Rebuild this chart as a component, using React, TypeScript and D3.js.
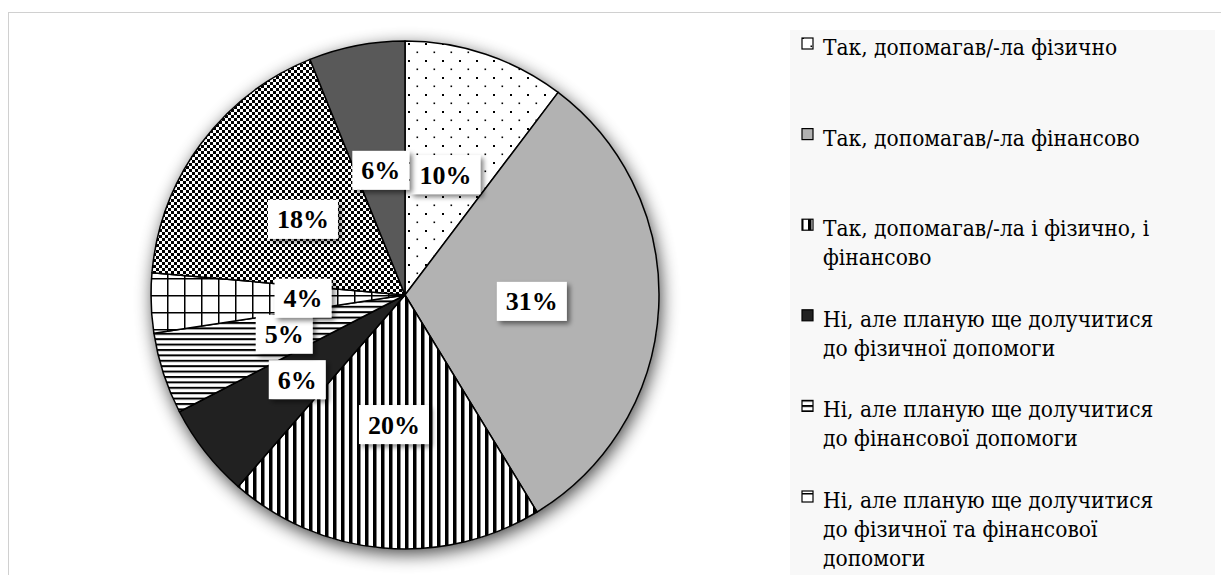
import React from "react";
import * as d3 from "d3";

const categories: string[] = [
  "Так, допомагав/-ла фізично",
  "Так, допомагав/-ла фінансово",
  "Так, допомагав/-ла і фізично, і\nфінансово",
  "Ні, але планую ще долучитися\nдо фізичної допомоги",
  "Ні, але планую ще долучитися\nдо фінансової допомоги",
  "Ні, але планую ще долучитися\nдо фізичної та фінансової\nдопомоги",
  "Ні, і не планую долучатися",
  "Важко відповісти",
];
const values: number[] = [10.3, 31.0, 20.1, 6.0, 5.2, 3.8, 17.5, 6.1];
const percentLabels: string[] = ["10%", "31%", "20%", "6%", "5%", "4%", "18%", "6%"];

// styling (not data)
const fills = [
  "url(#pDots)",
  "#b2b2b2",
  "url(#pVert)",
  "#212121",
  "url(#pHoriz)",
  "url(#pGrid)",
  "url(#pCheck)",
  "#595959",
];
const labelRadiusAdj = [0, 0, 3, 10, 0, -25, 0, 0];

const W = 1221;
const H = 575;
const cx = 405;
const cy = 295;
const R = 254;
const labelR = 127;

export default function App() {
  const pie = d3.pie<number>().sort(null).value((d) => d);
  const arcs = pie(values);
  const arcGen = d3.arc<d3.PieArcDatum<number>>().innerRadius(0).outerRadius(R);

  const legendX = 802;
  const legendY0 = 55;
  const legendStep = 90.6;
  const lineH = 29;

  return (
    <svg
      width={W}
      height={H}
      style={{ position: "absolute", left: 0, top: 0, background: "#fff" }}
    >
      <defs>
        <pattern id="pDots" patternUnits="userSpaceOnUse" width={17} height={17}>
          <rect width={17} height={17} fill="#fff" />
          <rect x={3} y={3} width={2} height={2} fill="#000" />
          <rect x={11.5} y={11.5} width={1.6} height={1.6} fill="#000" />
        </pattern>
        <pattern id="pVert" patternUnits="userSpaceOnUse" width={8} height={8}>
          <rect width={8} height={8} fill="#fff" />
          <rect x={0} y={0} width={3.5} height={8} fill="#000" />
        </pattern>
        <pattern id="pHoriz" patternUnits="userSpaceOnUse" width={8} height={5.4}>
          <rect width={8} height={5.4} fill="#fff" />
          <rect x={0} y={0} width={8} height={2} fill="#000" />
        </pattern>
        <pattern id="pGrid" patternUnits="userSpaceOnUse" width={17} height={17}>
          <rect width={17} height={17} fill="#fff" />
          <rect x={0} y={0} width={17} height={1.5} fill="#000" />
          <rect x={0} y={0} width={1.5} height={17} fill="#000" />
        </pattern>
        <pattern id="pCheck" patternUnits="userSpaceOnUse" width={6} height={6}>
          <rect width={6} height={6} fill="#fff" />
          <rect x={0} y={0} width={3} height={3} fill="#000" />
          <rect x={3} y={3} width={3} height={3} fill="#000" />
        </pattern>
        <filter id="pieShadow" x="-20%" y="-20%" width="140%" height="140%">
          <feGaussianBlur in="SourceAlpha" stdDeviation={9} />
          <feOffset dx={2} dy={5} result="b" />
          <feComponentTransfer>
            <feFuncA type="linear" slope={0.75} />
          </feComponentTransfer>
          <feMerge>
            <feMergeNode />
            <feMergeNode in="SourceGraphic" />
          </feMerge>
        </filter>
        <filter id="boxShadow" x="-30%" y="-30%" width="160%" height="160%">
          <feGaussianBlur in="SourceAlpha" stdDeviation={2.5} />
          <feOffset dx={3} dy={3} />
          <feComponentTransfer>
            <feFuncA type="linear" slope={0.5} />
          </feComponentTransfer>
          <feMerge>
            <feMergeNode />
            <feMergeNode in="SourceGraphic" />
          </feMerge>
        </filter>
      </defs>

      <rect x={8.5} y={12.5} width={W + 20} height={H + 20} fill="#fff" stroke="#d0d0d0" strokeWidth={1} />
      <rect x={790} y={30} width={425} height={H} fill="#f8f8f8" />

      <g transform={`translate(${cx},${cy})`}>
        <g filter="url(#pieShadow)">
          <circle r={R} fill="#fff" />
        </g>
        {arcs.map((a, i) => (
          <path
            key={i}
            d={arcGen(a) || ""}
            fill={fills[i]}
            stroke="#000"
            strokeWidth={1.5}
            strokeLinejoin="round"
          />
        ))}
      </g>

      {arcs.map((a, i) => {
        const mid = (a.startAngle + a.endAngle) / 2;
        const r = labelR + labelRadiusAdj[i];
        const x = cx + r * Math.sin(mid);
        const y = cy - r * Math.cos(mid);
        const txt = percentLabels[i];
        const digits = txt.length - 1;
        const bw = 18 + digits * 13 + 26;
        const bh = 39;
        return (
          <g key={i}>
            <rect x={x - bw / 2} y={y - bh / 2} width={bw} height={bh} fill="#fff" filter="url(#boxShadow)" />
            <text x={x} y={y + 9} textAnchor="middle" fontFamily="Liberation Serif" fontWeight="bold" fontSize={26} fill="#000">
              {txt}
            </text>
          </g>
        );
      })}

      {categories.map((c, i) => {
        const by = legendY0 + i * legendStep;
        const lines = c.split("\n");
        return (
          <g key={i}>
            <rect x={legendX} y={by - 17} width={11} height={11} fill={fills[i]} stroke="#000" strokeWidth={1.2} />
            <text
              fontFamily="DejaVu Serif"
              fontSize={23}
              fill="#000"
              transform={`translate(${legendX + 21},0) scale(0.88,1)`}
            >
              {lines.map((ln, j) => (
                <tspan key={j} x={0} y={by + j * lineH}>
                  {ln}
                </tspan>
              ))}
            </text>
          </g>
        );
      })}
    </svg>
  );
}
